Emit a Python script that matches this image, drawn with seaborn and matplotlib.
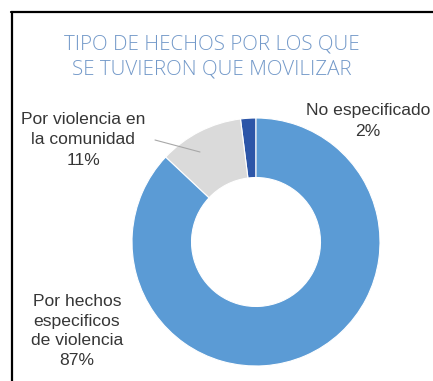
import matplotlib
matplotlib.use("Agg")
import matplotlib.pyplot as plt
import seaborn as sns
from matplotlib.lines import Line2D

sns.set_theme(style="white")
plt.rcParams['font.family'] = ['Liberation Sans', 'DejaVu Sans']

# Data
categories = ["No especificado", "Por violencia en la comunidad", "Por hechos especificos de violencia"]
values = [2, 11, 87]
colors = ["#2D56A8", "#DADADA", "#5B9BD5"]
title = "TIPO DE HECHOS POR LOS QUE\nSE TUVIERON QUE MOVILIZAR"
labels = ["No especificado\n2%", "Por violencia en\nla comunidad\n11%", "Por hechos\nespecificos\nde violencia\n87%"]

W, H = 433, 381
fig = plt.figure(figsize=(W / 100, H / 100), dpi=100)
fig.patch.set_facecolor("white")

def fx(x):
    return x / W

def fy(y):
    return 1 - y / H

cx, cy, r = 256, 242, 124
ax = fig.add_axes([fx(cx - r), fy(cy + r), 2 * r / W, 2 * r / H])
ax.pie(values, colors=colors, startangle=90, counterclock=True, radius=1,
       wedgeprops=dict(width=0.48, edgecolor="white", linewidth=0.8))
ax.set_xlim(-1, 1)
ax.set_ylim(-1, 1)
ax.set_aspect("equal")
ax.axis("off")

# Border (top and left visible)
fig.add_artist(Line2D([fx(12), fx(12)], [fy(12), fy(H + 5)], color="black", lw=1.6, transform=fig.transFigure))
fig.add_artist(Line2D([fx(11), fx(W + 5)], [fy(12), fy(12)], color="black", lw=1.6, transform=fig.transFigure))

# Title
fig.text(fx(212), fy(57), title, ha="center", va="center", fontsize=14.8, fontweight="light",
         color="#7399C9", linespacing=1.3, family=["Open Sans", "Liberation Sans", "DejaVu Sans"])

# Labels
fig.text(fx(368), fy(121), labels[0], ha="center", va="center", fontsize=12.6,
         color="#363636", linespacing=1.5)
fig.text(fx(83), fy(140), labels[1], ha="center", va="center", fontsize=12.6,
         color="#363636", linespacing=1.45)
fig.text(fx(77), fy(331), labels[2], ha="center", va="center", fontsize=12.6,
         color="#363636", linespacing=1.38)

# Leader line for gray slice
fig.add_artist(Line2D([fx(155), fx(200)], [fy(140), fy(152)], color="#A8A8A8", lw=0.8, transform=fig.transFigure))

fig.savefig("out.png", dpi=100, facecolor="white")
